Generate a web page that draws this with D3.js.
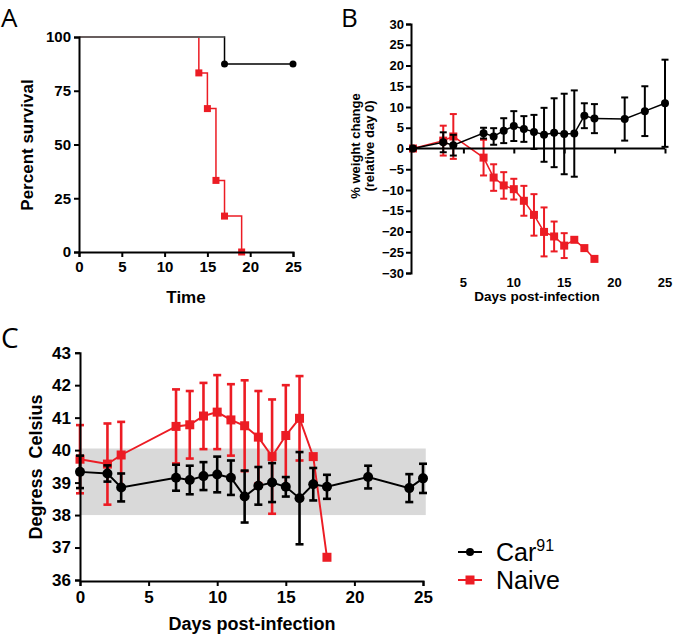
<!DOCTYPE html>
<html><head><meta charset="utf-8">
<script src="https://cdn.jsdelivr.net/npm/d3@7"></script>
<style>
body{margin:0;background:#fff;}
</style></head>
<body><svg id="c" width="675" height="637"></svg>
<script>
// ---------- DATA ----------
// Panel A: survival (Kaplan-Meier steps)
const survCarTime = [0, 17, 25];
const survCarPct  = [100, 87.5, 87.5];
const survCarMarkers = [17, 25];
const survNaiveTime = [0, 14, 15, 16, 17, 19];
const survNaivePct  = [100, 83.3, 66.7, 33.3, 16.7, 0];
const survNaiveMarkers = [14, 15, 16, 17, 19];

// Panel B: % weight change
const wDaysCar = [0,3,4,7,8,9,10,11,12,13,14,15,16,17,18,21,23,25];
const wCar     = [0,1.5,0.8,3.7,2.9,4.3,5.4,4.7,4.0,3.3,3.8,3.5,3.6,7.9,7.2,7.1,9.0,10.9];
const wCarErr  = [0,2.4,2.5,1.3,2.0,3.0,3.6,3.1,4.1,6.5,8.3,9.7,10.4,3.0,3.5,5.2,6.0,10.5];
const wDaysNaive = [0,3,4,7,8,9,10,11,12,13,14,15,16,17,18];
const wNaive     = [0,1.9,2.9,-2.2,-7.0,-8.9,-9.8,-12.6,-16.0,-20.1,-21.2,-23.4,-22.0,-24.0,-26.6];
const wNaiveErr  = [0,3.6,5.4,4.3,3.2,3.2,2.5,3.6,5.0,5.9,3.6,3.0,0,0,0];

// Panel C: temperature
const tDaysCar = [0,2,3,7,8,9,10,11,12,13,14,15,16,17,18,21,24,25];
const tCar     = [39.33,39.28,38.85,39.15,39.08,39.2,39.25,39.15,38.57,38.9,39.0,38.87,38.52,38.95,38.87,39.17,38.83,39.13];
const tCarErr  = [0.5,0.25,0.43,0.4,0.44,0.43,0.55,0.53,0.8,0.58,0.6,0.3,1.42,0.5,0.37,0.35,0.43,0.45];
const tDaysNaive = [0,2,3,7,8,9,10,11,12,13,14,15,16,17,18];
const tNaive     = [39.72,39.57,39.85,40.73,40.78,41.05,41.17,40.93,40.75,40.4,39.8,40.45,40.98,39.8,36.7];
const tNaiveErr  = [1.05,1.25,1.02,1.14,1.04,1.02,1.14,1.1,1.4,1.42,1.76,1.55,1.3,0,0];
const normalBand = [38, 40.05];

const xTicksA = [0,5,10,15,20,25];
const yTicksA = [0,25,50,75,100];
const xTicksB = [5,10,15,20,25];
const yTicksB = [30,25,20,15,10,5,0,-5,-10,-15,-20,-25,-30];
const xTicksC = [0,5,10,15,20,25];
const yTicksC = [36,37,38,39,40,41,42,43];

const seriesNames = ["Car", "Naive"];
const RED = "#ec1c24", BLACK = "#000";
const FONT = "'Liberation Sans', Arial, sans-serif";

// ---------- DRAW ----------
const svg = d3.select("#c");

function label(sel, size, bold){
  return sel.attr("font-family",FONT).attr("font-size",size).attr("font-weight",bold?"bold":"normal").attr("fill","#000");
}
function panelLetter(t, x, y, size){
  svg.append("text").attr("x",x).attr("y",y).text(t)
    .attr("font-family","'Open Sans',sans-serif").attr("font-size",size).attr("fill","#000");
}

function errSeries(g, x, y, days, vals, errs, color, marker, msize, cap, sw){
  g.append("path").datum(days.map((d,i)=>[d,vals[i]]))
    .attr("d", d3.line().x(d=>x(d[0])).y(d=>y(d[1])))
    .attr("fill","none").attr("stroke",color).attr("stroke-width",sw*0.75);
  days.forEach((d,i)=>{
    if(!errs[i]) return;
    const cx=x(d), y1=y(vals[i]+errs[i]), y2=y(vals[i]-errs[i]);
    g.append("line").attr("x1",cx).attr("x2",cx).attr("y1",y1).attr("y2",y2).attr("stroke",color).attr("stroke-width",sw);
    [y1,y2].forEach(yy=>g.append("line").attr("x1",cx-cap).attr("x2",cx+cap).attr("y1",yy).attr("y2",yy).attr("stroke",color).attr("stroke-width",sw));
  });
  days.forEach((d,i)=>{
    if(marker==="circle") g.append("circle").attr("cx",x(d)).attr("cy",y(vals[i])).attr("r",msize/2).attr("fill",color);
    else g.append("rect").attr("x",x(d)-msize/2).attr("y",y(vals[i])-msize/2).attr("width",msize).attr("height",msize).attr("fill",color);
  });
}

function styleAxis(g, fs){
  g.attr("font-family",FONT).attr("font-size",fs).attr("font-weight","bold");
  g.select(".domain").attr("stroke","#000").attr("stroke-width",2);
  g.selectAll(".tick line").attr("stroke","#000").attr("stroke-width",2);
  g.selectAll(".tick text").attr("fill","#000");
}

// ===== Panel A =====
{
  panelLetter("A", 1, 27, 26);
  const x = d3.scaleLinear().domain([0,25]).range([79,293]);
  const y = d3.scaleLinear().domain([0,100]).range([252,37]);
  const g = svg.append("g");
  const step = d3.line().curve(d3.curveStepAfter).x(d=>x(d[0])).y(d=>y(d[1]));
  g.append("path").datum(survNaiveTime.map((t,i)=>[t,survNaivePct[i]]))
    .attr("d",step).attr("fill","none").attr("stroke",RED).attr("stroke-width",1.5);
  g.append("path").datum(survCarTime.map((t,i)=>[t,survCarPct[i]]))
    .attr("d",step).attr("fill","none").attr("stroke",BLACK).attr("stroke-width",1.5);
  g.append("line").attr("x1",x(0)).attr("x2",x(survCarTime[1])).attr("y1",y(100)).attr("y2",y(100))
    .attr("stroke","#777").attr("stroke-width",1.5);
  survNaiveMarkers.forEach(t=>{
    const i = survNaiveTime.indexOf(t);
    g.append("rect").attr("x",x(t)-3.5).attr("y",y(survNaivePct[i])-3.5).attr("width",7).attr("height",7).attr("fill",RED);
  });
  survCarMarkers.forEach(t=>{
    const i = survCarTime.indexOf(t);
    g.append("circle").attr("cx",x(t)).attr("cy",y(survCarPct[i])).attr("r",3.5).attr("fill",BLACK);
  });
  const ax = svg.append("g").attr("transform","translate(0,252)").call(d3.axisBottom(x).tickValues(xTicksA).tickSize(5).tickPadding(4).tickFormat(d3.format("d")));
  styleAxis(ax,15);
  const ay = svg.append("g").attr("transform","translate(79,0)").call(d3.axisLeft(y).tickValues(yTicksA).tickSize(5).tickPadding(3).tickFormat(d3.format("d")));
  styleAxis(ay,15);
  label(svg.append("text").attr("x",186).attr("y",303).attr("text-anchor","middle").text("Time"),17,true);
  label(svg.append("text").attr("transform","translate(33,145) rotate(-90)").attr("text-anchor","middle").text("Percent survival"),17,true);
}

// ===== Panel B =====
{
  panelLetter("B", 341, 27, 26);
  const x = d3.scaleLinear().domain([0,25]).range([413,665]);
  const y = d3.scaleLinear().domain([-30,30]).range([273,24]);
  const g = svg.append("g");
  const ax = svg.append("g").attr("transform",`translate(0,${y(0)})`).call(d3.axisBottom(x).tickValues(xTicksB).tickSize(5).tickFormat(""));
  styleAxis(ax,12);
  ax.select(".domain").attr("d",`M411,0H${x(25)}`);
  xTicksB.forEach(t=>label(svg.append("text").attr("x",x(t)).attr("y",287).attr("text-anchor","middle").text(t),13,true));
  const ay = svg.append("g").attr("transform","translate(411,0)").call(d3.axisLeft(y).tickValues(yTicksB).tickSize(5).tickPadding(2).tickFormat(d3.format("d")));
  styleAxis(ay,13);
  errSeries(g,x,y,wDaysNaive,wNaive,wNaiveErr,RED,"rect",8,3.5,2);
  errSeries(g,x,y,wDaysCar,wCar,wCarErr,BLACK,"circle",8,3.5,2);
  label(svg.append("text").attr("x",537).attr("y",301).attr("text-anchor","middle").text("Days post-infection"),13.5,true);
  label(svg.append("text").attr("transform","translate(360,146) rotate(-90)").attr("text-anchor","middle").text("% weight change"),13,true);
  label(svg.append("text").attr("transform","translate(374,146) rotate(-90)").attr("text-anchor","middle").text("(relative day 0)"),13,true);
}

// ===== Panel C =====
{
  panelLetter("C", 1, 348, 28);
  const x = d3.scaleLinear().domain([0,25]).range([80,423]);
  const y = d3.scaleLinear().domain([36,43]).range([580,352.7]);
  const g = svg.append("g");
  g.append("rect").attr("x",x(0)).attr("width",x(25.2)-x(0)).attr("y",y(normalBand[1])).attr("height",y(normalBand[0])-y(normalBand[1]))
    .attr("fill","#d9d9d9");
  const ax = svg.append("g").attr("transform","translate(0,581)").call(d3.axisBottom(x).tickValues(xTicksC).tickSize(5).tickPadding(5).tickFormat(d3.format("d")));
  styleAxis(ax,17);
  const ay = svg.append("g").attr("transform","translate(80,0)").call(d3.axisLeft(y).tickValues(yTicksC).tickSize(5).tickPadding(4).tickFormat(d3.format("d")));
  styleAxis(ay,17);
  errSeries(g,x,y,tDaysNaive,tNaive,tNaiveErr,RED,"rect",9,4,2.6);
  errSeries(g,x,y,tDaysCar,tCar,tCarErr,BLACK,"circle",10,4,2.6);
  label(svg.append("text").attr("x",252).attr("y",630).attr("text-anchor","middle").text("Days post-infection"),18,true);
  label(svg.append("text").attr("transform","translate(42,467) rotate(-90)").attr("text-anchor","middle")
    .style("white-space","pre").text("Degress  Celsius"),18,true);
}

// ===== Legend =====
{
  const lg = svg.append("g");
  const items = [{name:seriesNames[0], sup:"91", color:BLACK, marker:"circle", y:552},
                 {name:seriesNames[1], sup:"", color:RED, marker:"rect", y:580}];
  items.forEach(it=>{
    lg.append("line").attr("x1",458).attr("x2",482).attr("y1",it.y).attr("y2",it.y).attr("stroke",it.color).attr("stroke-width",2);
    if(it.marker==="circle") lg.append("circle").attr("cx",470).attr("cy",it.y).attr("r",4).attr("fill",it.color);
    else lg.append("rect").attr("x",465.5).attr("y",it.y-4.5).attr("width",9).attr("height",9).attr("fill",it.color);
    const t = label(lg.append("text").attr("x",496).attr("y",it.y+9),25,false);
    t.append("tspan").text(it.name);
    if(it.sup) t.append("tspan").attr("dy",-10).attr("font-size",16).text(it.sup);
  });
}
</script></body></html>
